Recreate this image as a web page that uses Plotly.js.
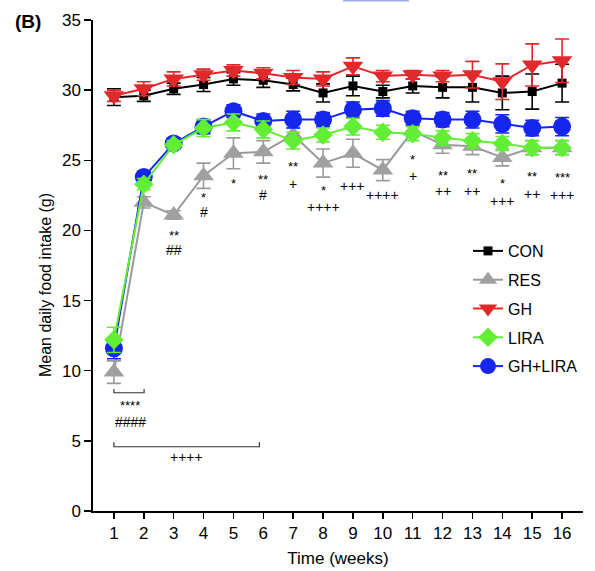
<!DOCTYPE html>
<html>
<head>
<meta charset="utf-8">
<script src="https://cdn.plot.ly/plotly-3.0.1.min.js"></script>
<style>html,body{margin:0;padding:0;background:#fff;}#chart{width:595px;height:571px;}</style>
</head>
<body>
<div id="chart"></div>
<script>
// ---- data ----
const weeks = [1,2,3,4,5,6,7,8,9,10,11,12,13,14,15,16];

const conMean = [29.5,29.6,30.1,30.4,30.8,30.7,30.4,29.8,30.3,29.9,30.3,30.2,30.2,29.8,29.9,30.5];
const conErr  = [0.6,0.4,0.4,0.5,0.45,0.5,0.45,0.65,0.7,0.45,0.5,0.75,1.05,1.2,1.25,1.35];

const resMean = [9.9,22.0,21.1,23.9,25.5,25.6,26.8,24.8,25.5,24.3,27.1,26.1,26.0,25.2,25.9,25.9];
const resErr  = [0.8,0.4,0.3,0.9,1.1,0.8,0.5,1.0,1.0,0.75,0.4,0.6,0.6,0.6,0.5,0.5];

const ghMean  = [29.6,30.1,30.8,31.1,31.4,31.2,30.9,30.8,31.7,31.0,31.1,31.0,31.1,30.6,31.8,32.1];
const ghErr   = [0.4,0.5,0.5,0.4,0.4,0.4,0.5,0.5,0.6,0.4,0.3,0.4,0.95,1.27,1.5,1.55];

const liraMean = [12.2,23.3,26.1,27.3,27.7,27.2,26.4,26.8,27.4,27.0,26.9,26.6,26.4,26.2,25.9,25.9];
const liraErr  = [0.9,0.4,0.3,0.6,0.6,0.6,0.6,0.5,0.6,0.5,0.5,0.5,0.5,0.5,0.5,0.5];

const ghLiraMean = [11.6,23.8,26.2,27.4,28.5,27.8,27.9,27.9,28.6,28.7,28.0,27.9,27.9,27.6,27.3,27.4];
const ghLiraErr  = [0.75,0.4,0.4,0.5,0.45,0.5,0.6,0.5,0.55,0.55,0.5,0.5,0.6,0.65,0.55,0.65];

const seriesNames = ['CON','RES','GH','LIRA','GH+LIRA'];
const xTickLabels = weeks.map(String);
const yTickVals = [0,5,10,15,20,25,30,35];

// significance labels per week ('' = none)
const starLabels = ['','','**','*','*','**','**','*','','','*','**','**','*','**','***'];
const markLabels = ['','','##','#','','#','+','++++','+++','++++','+','++','++','+++','++','+++'];

// ---- layout positions for the significance labels (data units) ----
const starY = [0,0,19.9,22.6,23.6,23.9,24.8,23.1,0,0,25.3,24.2,24.3,23.6,24.1,24.0];
const markY = [0,0,18.6,21.3,0,22.5,23.3,21.7,23.2,22.5,23.9,22.8,22.8,22.1,22.6,22.5];

const FONT = '"Liberation Sans", Arial, Helvetica, sans-serif';

function mk(name, x, y, err, color, lineColor, symbol, size, rank, lw) {
  return {
    type: 'scatter', mode: 'lines+markers', name: name, x: x, y: y,
    legendgroup: name, legendrank: rank,
    line: {color: lineColor, width: lw || 2},
    marker: {color: color, symbol: symbol, size: size, line: {width: 0}},
    error_y: {type: 'data', array: err, visible: true, color: lineColor, thickness: 1.6, width: 7},
    cliponaxis: false
  };
}

const RED = '#E1282B', GREEN = '#62EE34', BLUE = '#1526EE', GRAY = '#A0A0A0';

const traces = [
  mk(seriesNames[1], weeks, resMean, resErr, GRAY, '#9a9a9a', 'triangle-up', 18, 2),
  mk(seriesNames[4], weeks, ghLiraMean, ghLiraErr, BLUE, BLUE, 'circle', 18, 5),
  mk(seriesNames[3], weeks, liraMean, liraErr, GREEN, GREEN, 'diamond', 15, 4),
  mk(seriesNames[0], weeks, conMean, conErr, '#000000', '#000000', 'square', 9, 1),
  mk(seriesNames[2], weeks, ghMean, ghErr, RED, RED, 'triangle-down', 18, 3)
];

const annotations = [];
weeks.forEach((w, i) => {
  if (starLabels[i]) annotations.push({x: w, y: starY[i] - 0.25, xref: 'x', yref: 'y', text: starLabels[i], showarrow: false, font: {size: 13, family: FONT, color: '#000'}});
  if (markLabels[i]) annotations.push({x: w, y: markY[i], xref: 'x', yref: 'y', text: markLabels[i], showarrow: false, font: {size: 14, family: FONT, color: '#000'}});
});
// bracket labels
annotations.push({x: 1.54, y: 7.75 - 0.25, xref: 'x', yref: 'y', text: '****', showarrow: false, font: {size: 13, family: FONT, color: '#000'}});
annotations.push({x: 1.54, y: 6.32, xref: 'x', yref: 'y', text: '####', showarrow: false, font: {size: 14, family: FONT, color: '#000'}});
annotations.push({x: 3.44, y: 3.83, xref: 'x', yref: 'y', text: '++++', showarrow: false, font: {size: 14, family: FONT, color: '#000'}});
// panel label
annotations.push({x: 28, y: 22, text: '<b>(B)</b>', showarrow: false, font: {size: 19, family: FONT, color: '#000'}});
// y axis title (positioned like the reference)
annotations.push({x: 45, y: 285, text: 'Mean daily food intake (g)', textangle: -90, showarrow: false, font: {size: 16, family: FONT, color: '#000'}});

// convert pixel-positioned labels (panel label, y title) to paper coords
const L = 93, R = 12, T = 20, B = 60, W = 595, H = 571;
const pw = W - L - R, ph = H - T - B;
annotations.slice(-2).forEach(a => {
  a.xref = 'paper'; a.yref = 'paper'; a.xanchor = 'center'; a.yanchor = 'middle';
  a.x = (a.x - L) / pw; a.y = (H - B - a.y) / ph;
});

const shapes = [
  {type: 'path', xref: 'x', yref: 'y', path: 'M 1,8.7 L 1,8.43 L 2.01,8.43 L 2.01,8.7', line: {color: '#333', width: 1.2}},
  {type: 'path', xref: 'x', yref: 'y', path: 'M 1,4.9 L 1,4.58 L 5.87,4.58 L 5.87,4.9', line: {color: '#333', width: 1.2}},
  {type: 'line', xref: 'paper', yref: 'paper', x0: (343 - L) / pw, x1: (409 - L) / pw, y0: (H - B - 0.8) / ph, y1: (H - B - 0.8) / ph, line: {color: '#A3A9E2', width: 1.6}}
];

const layout = {
  width: W, height: H,
  margin: {l: L, r: R, t: T, b: B, pad: 0},
  paper_bgcolor: '#fff', plot_bgcolor: '#fff',
  font: {family: FONT, color: '#000'},
  showlegend: true,
  legend: {
    x: (468 - L) / pw, xanchor: 'left', y: (H - B - 234) / ph, yanchor: 'top',
    font: {size: 16, family: FONT, color: '#000'},
    traceorder: 'grouped', tracegroupgap: 5, itemwidth: 30,
    bgcolor: 'rgba(0,0,0,0)', borderwidth: 0
  },
  xaxis: {
    range: [0.3, 16.7], tickvals: weeks, ticktext: xTickLabels,
    ticks: 'outside', ticklen: 6, tickwidth: 1.5, tickcolor: '#000',
    showline: true, linewidth: 1.6, linecolor: '#000',
    showgrid: false, zeroline: false, fixedrange: true, automargin: false,
    tickfont: {size: 17, family: FONT, color: '#000'},
    title: {text: 'Time (weeks)', font: {size: 17, family: FONT, color: '#000'}, standoff: 10}
  },
  yaxis: {
    range: [0, 35], tickvals: yTickVals,
    ticks: 'outside', ticklen: 7, tickwidth: 1.5, tickcolor: '#000',
    showline: true, linewidth: 1.6, linecolor: '#000',
    showgrid: false, zeroline: false, fixedrange: true, automargin: false,
    tickfont: {size: 17, family: FONT, color: '#000'}
  },
  annotations: annotations,
  shapes: shapes
};

Plotly.newPlot('chart', traces, layout, {displayModeBar: false, staticPlot: true});
</script>
</body>
</html>
